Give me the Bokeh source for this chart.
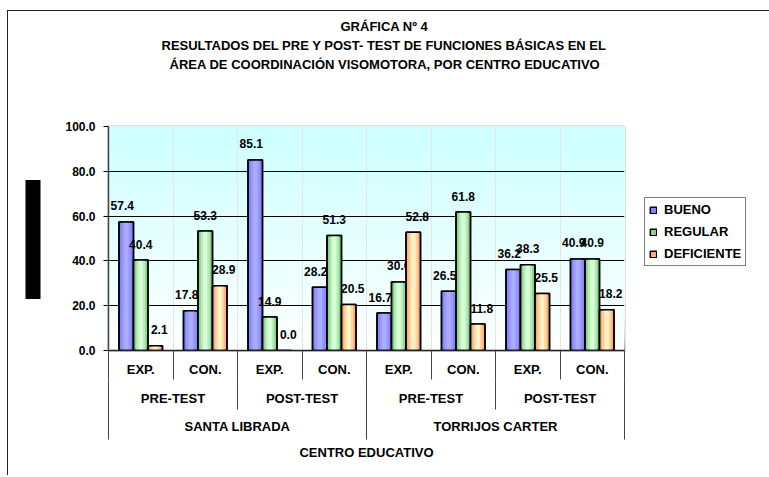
from bokeh.plotting import figure
from bokeh.models import (Range1d, LinearAxis, FixedTicker, ColumnDataSource, Title,
                          Legend, LegendItem, BoxAnnotation, NumeralTickFormatter)
from bokeh.core.properties import value
from bokeh.transform import dodge
from bokeh.embed import file_html
from bokeh.resources import INLINE

# ---------------- data ----------------
title_lines = ["GRÁFICA Nº 4",
               "RESULTADOS DEL PRE Y POST- TEST DE FUNCIONES BÁSICAS EN EL",
               "ÁREA DE COORDINACIÓN VISOMOTORA, POR CENTRO EDUCATIVO"]
schools = ["SANTA LIBRADA", "TORRIJOS CARTER"]
tests = ["PRE-TEST", "POST-TEST"]
groups = ["EXP.", "CON."]
series = ["BUENO", "REGULAR", "DEFICIENTE"]
bueno = [57.4, 17.8, 85.1, 28.2, 16.7, 26.5, 36.2, 40.9]
regular = [40.4, 53.3, 14.9, 51.3, 30.6, 61.8, 38.3, 40.9]
deficiente = [2.1, 28.9, 0.0, 20.5, 52.8, 11.8, 25.5, 18.2]
y_ticks = [0, 20, 40, 60, 80, 100]
x_title = "CENTRO EDUCATIVO"
y_title = "PORCENTAJE"

FONT = "Liberation Sans"

factors = [(s, t, g) for s in schools for t in tests for g in groups]
n = len(factors)
src = ColumnDataSource(dict(
    pos=[i + 0.5 for i in range(n)],          # category slot centres
    bueno=bueno, regular=regular, deficiente=deficiente,
    bueno_lbl=[f"{v:.1f}" for v in bueno],
    regular_lbl=[f"{v:.1f}" for v in regular],
    deficiente_lbl=[f"{v:.1f}" for v in deficiente],
))

# canvas is offset (8, 11) on the page by CSS margins
OX, OY = 8, 11
CW, CH = 760, 465
FL, FT, FWd, FHt = 108 - OX, 126 - OY, 516, 224
FR, FB = FL + FWd, FT + FHt

p = figure(frame_width=FWd, frame_height=FHt, x_range=Range1d(0, n), y_range=Range1d(0, 100),
           x_axis_location=None, output_backend="svg", toolbar_location=None,
           min_border_left=FL, min_border_right=CW - FR,
           min_border_top=FT, min_border_bottom=CH - FB)
p.title.visible = False
p.outline_line_color = "#808080"
p.outline_line_width = 1.5
p.background_fill_color = "white"
p.border_fill_color = "white"
p.styles = {"margin-left": f"{OX}px", "margin-top": f"{OY}px",
            "box-shadow": "-1px -1px 0 0 #222"}

# gradient background (cyan at top -> white at bottom)
nb = 60
for k in range(nb):
    y0 = 100 * k / nb
    t = k / nb
    r = round(253 - (253 - 204) * t)
    p.add_layout(BoxAnnotation(bottom=y0, top=100, fill_color=f"#{r:02x}ffff",
                               fill_alpha=1, line_color=None, level="image"))

# y grid
p.ygrid.ticker = FixedTicker(ticks=y_ticks[1:-1])
p.ygrid.grid_line_color = "black"
p.ygrid.grid_line_width = 1

# y axis
ya = p.yaxis[0]
ya.ticker = FixedTicker(ticks=y_ticks)
ya.formatter = NumeralTickFormatter(format="0.0")
ya.major_label_text_font = FONT
ya.major_label_text_font_style = "bold"
ya.major_label_text_font_size = "12px"
ya.major_label_text_color = "black"
ya.major_tick_out = 5
ya.major_tick_in = 0
ya.major_tick_line_color = "black"
ya.minor_tick_line_color = None
ya.axis_line_color = "#444444"
ya.axis_line_width = 1.5
ya.major_label_standoff = 8

# y title: in the original it appears as a dark box.  A second left axis draws the box
# as one very thick tick, and carries the title text on top of it.
box_mid = 100 * ((FB + OY) - 238.5) / FHt          # vertical centre of the box (data units)
box_ax = LinearAxis(ticker=FixedTicker(ticks=[box_mid]),
                    major_label_overrides={box_mid: ""})
box_ax.axis_line_color = None
box_ax.major_tick_line_color = "black"
box_ax.major_tick_line_width = 119
box_ax.major_tick_in = -22
box_ax.major_tick_out = 37
box_ax.minor_tick_line_color = None
box_ax.minor_tick_out = 0
box_ax.minor_tick_in = 0
box_ax.major_label_text_font_size = "0px"
box_ax.major_label_standoff = 0
box_ax.axis_label = y_title
box_ax.axis_label_standoff = -14
box_ax.axis_label_text_font = FONT
box_ax.axis_label_text_font_style = "bold"
box_ax.axis_label_text_font_size = "11px"
box_ax.axis_label_text_color = "black"
p.add_layout(box_ax, "left")

# bars
bw = 0.225
styles = [
    ("bueno", -bw, ["#8585FF", "#9999FF", "#ABABFF"], -4),
    ("regular", 0.0, ["#8FD18F", "#B5EDB5", "#D8FCD8"], 0),
    ("deficiente", bw, ["#FFAE78", "#FFD3A0", "#FFF2C4"], 4),
]
renderers = []
for col, off, cols, xo in styles:
    xx = dodge("pos", off)
    r = p.vbar(x=xx, top=col, width=bw, fill_color=cols[0], line_color="black",
               line_width=1.5, source=src)
    p.vbar(x=xx, top=col, width=bw * 0.62, fill_color=cols[1], line_color=None, source=src)
    p.vbar(x=xx, top=col, width=bw * 0.3, fill_color=cols[2], line_color=None, source=src)
    p.vbar(x=xx, top=col, width=bw, fill_color=None, line_color="black",
           line_width=1.5, source=src)
    p.text(x=xx, y=col, text=col + "_lbl", source=src, x_offset=xo, y_offset=-16,
           text_align="center", text_baseline="middle", text_color="black",
           text_font=value(FONT), text_font_style="bold", text_font_size="12px")
    renderers.append(r)

# hierarchical category axes (labels + separator lines drawn as minor ticks)
ng, nt = len(groups), len(tests)

def level(size, names):
    nblk = n // size
    centers = [j * size + size / 2 for j in range(nblk)]
    bounds = [float(j * size) for j in range(nblk + 1)]
    return centers, names, bounds

lvl1 = level(1, [f[2] for f in factors])
lvl2 = level(ng, [factors[j * ng][1] for j in range(n // ng)])
lvl3 = level(ng * nt, [factors[j * ng * nt][0] for j in range(n // (ng * nt))])

def cat_axis(lv, standoff, sep_len, line_color):
    centers, labels, bounds = lv
    ax = LinearAxis(ticker=FixedTicker(ticks=centers, minor_ticks=bounds),
                    major_label_overrides={c: l for c, l in zip(centers, labels)})
    ax.major_tick_out = 0
    ax.major_tick_in = 0
    ax.major_tick_line_color = None
    ax.minor_tick_out = 0
    ax.minor_tick_in = -sep_len      # draws outward without enlarging the axis band
    ax.minor_tick_line_color = "#444444"
    ax.minor_tick_line_width = 1
    ax.axis_line_color = line_color
    ax.axis_line_width = 1.5
    ax.major_label_standoff = standoff
    ax.major_label_text_font = FONT
    ax.major_label_text_font_style = "bold"
    ax.major_label_text_font_size = "13px"
    ax.major_label_text_color = "black"
    return ax

ax1 = cat_axis(lvl1, 11, 29, "#222222")
ax2 = cat_axis(lvl2, 11, 30, None)
ax3 = cat_axis(lvl3, 10, 31, None)
ax3.axis_label = x_title
ax3.axis_label_standoff = 8
ax3.axis_label_text_font = FONT
ax3.axis_label_text_font_style = "bold"
ax3.axis_label_text_font_size = "13px"
ax3.axis_label_text_color = "black"
p.add_layout(ax1, "below")
p.add_layout(ax2, "below")
p.add_layout(ax3, "below")

# legend (right panel, placed relative to that panel)
legend = Legend(items=[LegendItem(label=s, renderers=[r]) for s, r in zip(series, renderers)],
                location=(20, 84))
legend.label_text_font = FONT
legend.label_text_font_style = "bold"
legend.label_text_font_size = "13px"
legend.label_text_color = "black"
legend.glyph_width = 8
legend.glyph_height = 8
legend.label_height = 15
legend.label_standoff = 7
legend.spacing = 7
legend.padding = 4
legend.margin = 0
legend.border_line_color = "black"
legend.border_line_width = 1
legend.background_fill_color = "white"
legend.background_fill_alpha = 1
p.add_layout(legend, "right")

# empty spacer band between the frame and the title block (one invisible long tick)
spacer = LinearAxis(ticker=FixedTicker(ticks=[n / 2]), major_label_overrides={n / 2: ""})
spacer.major_tick_out = 54
spacer.major_tick_in = 0
spacer.major_tick_line_color = None
spacer.minor_tick_out = 0
spacer.minor_tick_in = 0
spacer.minor_tick_line_color = None
spacer.axis_line_color = None
spacer.major_label_text_font_size = "0px"
spacer.major_label_standoff = 0
p.add_layout(spacer, "above")

# title lines, stacked above the spacer (nearest first); left offsets centre them at x=385
title_offsets = {title_lines[0]: 232, title_lines[1]: 53, title_lines[2]: 61}
for txt in [title_lines[2], title_lines[1], title_lines[0]]:
    p.add_layout(Title(text=txt, align="left", offset=title_offsets[txt], standoff=2,
                       vertical_align="bottom", text_font=FONT, text_font_style="bold",
                       text_font_size="13px", text_color="black"), "above")

open("out.html", "w").write(file_html(p, INLINE))
